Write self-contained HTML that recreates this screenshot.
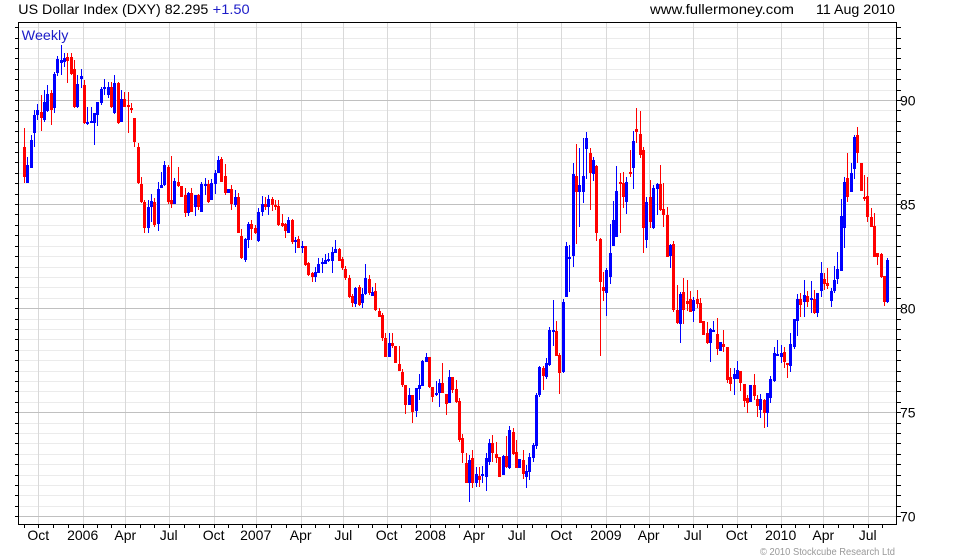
<!DOCTYPE html>
<html><head><meta charset="utf-8"><style>
html,body{margin:0;padding:0;background:#fff;}
svg{display:block;}
text{font-family:"Liberation Sans",Arial,sans-serif;}
</style></head><body>
<svg id="c" width="980" height="560" viewBox="0 0 980 560" xmlns="http://www.w3.org/2000/svg">
<rect x="0" y="0" width="980" height="560" fill="#fff"/>
<g id="grid" shape-rendering="crispEdges"></g>
<g id="candles" shape-rendering="crispEdges"></g>
<g id="axes" shape-rendering="crispEdges"></g>
<text x="18.3" y="14" font-size="14" fill="#000" textLength="190" lengthAdjust="spacingAndGlyphs">US Dollar Index (DXY) 82.295</text>
<text x="212.7" y="14" font-size="14" fill="#1c1cc8" textLength="37" lengthAdjust="spacingAndGlyphs">+1.50</text>
<text x="650" y="14" font-size="14" fill="#000" textLength="144" lengthAdjust="spacingAndGlyphs">www.fullermoney.com</text>
<text x="816" y="14" font-size="14" fill="#000" textLength="79" lengthAdjust="spacingAndGlyphs">11 Aug 2010</text>
<text x="21.7" y="40" font-size="14" fill="#1c1cc8" textLength="46.7" lengthAdjust="spacingAndGlyphs">Weekly</text>
<text x="760" y="555" font-size="10" fill="#999" textLength="135" lengthAdjust="spacingAndGlyphs">© 2010 Stockcube Research Ltd</text>
<g id="labels"></g>
</svg>
<script>
(function(){
var NS="http://www.w3.org/2000/svg";
function el(p,n,a,t){var e=document.createElementNS(NS,n);for(var k in a)e.setAttribute(k,a[k]);if(t!==undefined)e.textContent=t;p.appendChild(e);return e;}
var grid=document.getElementById('grid'),cg=document.getElementById('candles'),ax=document.getElementById('axes'),lb=document.getElementById('labels');
var L=18,R=897,T=22,B=525;
function Y(v){return 100+(90-v)*20.815;}
var Q=[38.3,82.7,125.3,168.7,213.7,255.7,300.7,343.3,386.7,430.3,474,516.7,561.3,606,648.7,692.7,736.7,780.7,823.3,867.7];
var QL=["Oct","2006","Apr","Jul","Oct","2007","Apr","Jul","Oct","2008","Apr","Jul","Oct","2009","Apr","Jul","Oct","2010","Apr","Jul"];
var v,y,i;
// minor horizontals
for(v=70;v<=93.5;v+=0.5){ if(v%5!==0){y=Math.round(Y(v))+0.5; el(grid,'line',{x1:L,x2:R,y1:y,y2:y,stroke:'#ebebeb','stroke-width':1});}}
// verticals
for(i=0;i<Q.length;i++){var x=Math.round(Q[i])+0.5; el(grid,'line',{x1:x,x2:x,y1:T,y2:B,stroke:'#d9d9d9','stroke-width':1});}
// major horizontals
for(v=70;v<=90;v+=5){y=Math.round(Y(v))+0.5; el(grid,'line',{x1:L,x2:R,y1:y,y2:y,stroke:'#c0c0c0','stroke-width':1});}
// candles [x, bodyTop, bodyBot, wickTop, wickBot, blue?]
var D=[
[24,146.7,177.3,127.7,182.7,0],[27,165,182.7,157,183,1],[31.3,140,167.7,135,168,1],[34.3,115,132.7,110,146.7,1],[37.3,110,115,104,120,1],[41.3,111.7,117.7,95,130.7,0],[44.3,101.7,120,90,121.7,1],[47.3,94,110.7,85,111.7,1],[51.3,92.7,110,90,125,0],[54.3,74,108.3,71.7,112.7,1],[57.3,59,72.7,56,76,1],[61.3,60,62.7,45,75,1],[64.3,58.3,61.7,52.7,67.3,1],[67.3,57.3,60.7,52.7,82.7,0],[71.3,57.3,74.3,53,75,0],[74.3,69.3,106.7,60,108.3,0],[77.3,84,106.7,75,108.3,1],[81.3,76,79,69.3,88.3,1],[84.3,85,123.3,80,124,0],[87.3,121.7,123.3,106.7,125,1],[91.3,121,123.3,106.7,123.3,1],[94.3,113.3,123.3,112.7,145,1],[97.3,101.7,115,101.7,126,1],[101.3,89,103.3,87.3,105,1],[104.3,87.3,89.3,79.3,95,1],[108.3,86.7,95,81.7,98.3,1],[111.3,86.7,106.7,81.7,108.3,0],[114.3,82.7,113.3,75,114,1],[118.3,82.7,123.3,81.7,124,0],[121.3,99,121.7,90,121.7,1],[124.3,99,106.7,91.7,106.7,0],[128.3,105,106.7,92.3,132.7,0],[131.3,107.7,109.3,102.7,113.3,0],[134.3,118.3,141.7,118.3,146.7,0],[138.3,147.3,182.7,143.3,184,0],[141.3,184,202.3,176.7,203.3,0],[144.3,202.3,227.7,200,232.7,0],[148.3,206.7,228.3,200,232.7,1],[151.3,201,207.3,194,221.7,1],[154.3,201.7,225,198.3,226.7,0],[158.3,189,224.3,181.7,230.7,1],[161.3,185,188.3,171.7,188.3,1],[164.3,165,185,161,185.7,1],[168.3,166.7,201.7,165,204,0],[171.3,200,204.3,156,208.3,0],[174.3,181,204.3,178.3,204.3,1],[178.3,182.3,186,166.7,186.7,0],[181.3,185.7,196.7,185.7,196.7,0],[185.3,195,213.3,188.3,216.7,0],[188.3,192.7,212.7,191.7,215.7,1],[191.3,193.3,211.7,188.3,211.7,0],[195.3,195,206.7,195,215.7,1],[198.3,195,206.7,194,210,0],[201.3,184,211.7,181.7,212.3,1],[205.3,184,185.7,178.3,195,1],[208.3,184.3,201.7,180,203.3,0],[211.3,183.3,200,179.3,200,1],[215.3,173.3,184,170,194,1],[218.3,160,173.3,156,173.3,1],[221.3,159,181.7,156.7,181.7,0],[225.3,176,193.3,164,195,0],[228.3,189,193.3,189,193.3,1],
[231.3,189,204,185,210,0],[235.3,197.3,205,190,206.7,1],[238.3,197.3,232.7,193.3,232.7,0],[241.3,236,258.3,229.3,259.3,0],[245.3,239.3,260,238.3,261.7,1],[248.3,224,240,221.7,247.7,1],[251.3,224,229.3,220,240,0],[255.3,228.3,232.7,225,234.3,0],[258.3,211.7,240.7,208.3,241.7,1],[262.3,204,211.7,196,216,1],[265.3,204,207.3,196.7,210,0],[268.3,199,206.7,195,215,1],[272.3,199,205,196.7,211,0],[275.3,205,207.3,200,210,0],[278.3,206,225,200,226,0],[282.3,223.3,226,214,227.3,0],[285.3,224,230.7,223.3,237.7,0],[288.3,220,232.7,217.3,233.3,1],[292.3,220,242.3,219.3,244,0],[295.3,240,241.7,236.7,252.7,1],[298.3,239.3,247.7,236,248.3,0],[302.3,246,247.7,241,253.3,1],[305.3,246,265,246,266,0],[308.3,263.3,275,261.7,276,0],[312.3,272.7,276.7,271.7,281.7,0],[315.3,271.7,277.3,266.7,281.7,1],[318.3,264,272.7,258.3,273.3,1],[322.3,261.7,264,258.3,273.3,1],[325.3,260,264,254.3,264,1],[328.3,259,260.7,253.3,261.7,1],[332.3,252.3,260.7,246.7,272.7,1],[335.3,249,253.3,240,253.3,1],[339.3,249.3,260.7,248.3,260.7,0],[342.3,259,268.3,256.7,270,0],[345.3,269.3,278.3,266,280,0],[349.3,278.3,296.7,275,298.3,0],[352.3,296,303.3,294,306.7,0],[355.3,288.3,304,286.7,307.3,1],[359.3,287.3,305,285,306,0],[362.3,294,303.3,288.3,308.3,1],[365.3,278.3,294,264,295,1],[369.3,279.3,292.7,275,295,0],[372.3,291.7,296,286.7,296,1],[375.3,291,310,283.3,310.7,0],[379.3,311,316.7,308.3,316.7,0],[382.3,315,338.3,312.7,340.7,0],[385.3,338.3,356.7,332.7,356.7,0],[389.3,342.7,356.7,332.7,356.7,1],[392.3,342.7,346,332.7,348.3,0],[395.3,346,362.7,346,362.7,0],[399.3,364,370.7,346,370.7,0],[402.3,371.7,385,369.3,386.7,0],[405.3,385,405,385,414,0],[409.3,395,405,388.3,405,1],[412.3,395,411.7,395,423.3,0],[416.3,388.3,410.7,388.3,416.7,1],[419.3,385,389.3,374,400,1],[422.3,360.7,386,360,386,1],[426.3,356.7,361.7,352.7,361.7,1],[429.3,356.7,387.3,356.7,388.3,0],[432.3,387.3,396.7,386.7,401.7,0],[436.3,392.7,395,380.7,396,1],[439.3,382.7,392.7,379.3,407.3,1],[442.3,382.7,392.7,362.7,393.3,0],[446.3,394,404,394,415,0],[449.3,377.3,403.3,370,403.3,1],[452.3,377.3,390,376.7,393.3,0],[456.3,389.3,401.7,380,402.7,0],[459.3,401,440,398.3,441.7,0],
[462.3,438.3,453.3,434,463.3,0],[466.3,463.3,482.7,453.3,482.7,0],[469.3,460,482.7,455,501.7,1],[472.3,458.3,482.7,450,488.3,0],[476.3,474,483.3,466.7,486.7,1],[479.3,476,480,466.7,486.7,0],[482.3,474,476,466,483.3,1],[486.3,458.3,476.7,452.7,490.7,1],[489.3,443.3,461.7,439.3,465,1],[492.3,443.3,453.3,435,461.7,0],[496.3,454.3,458.3,441.7,463.3,0],[499.3,457.3,477.3,457.3,477.3,0],[503.3,456,475,455,475,1],[506.3,456,467.3,436,468.3,0],[509.3,430,468.3,426,469.3,1],[513.3,431.7,454,428.3,455,0],[516.3,451.7,468.3,440,468.3,0],[519.3,459.3,468.3,459.3,468.3,1],[523.3,460,474,450,479.3,0],[526.3,470.7,477.3,465,488.3,1],[529.3,456.7,471.7,452.7,480,1],[533.3,445,458.3,442.7,461.7,1],[536.3,395,446,392.7,449.3,1],[539.3,367.3,395,366,396.7,1],[543.3,368.3,376,366,390,0],[546.3,363.3,376.7,358.3,379.3,1],[549.3,330,365,326.7,366,1],[553.3,330,331.7,300,346,1],[556.3,330.7,356,321,356,0],[559.3,355,372.7,353.3,394,0],[563.3,301.7,371.7,299.3,372.7,1],[566.3,246,296.7,241.7,297.3,1],[569.3,256.7,258.3,245,291.7,1],[573.3,174,256,162.7,266.7,1],[576.3,176,191.7,144,244,0],[579.3,185,191.7,148.3,226.7,1],[583.3,176,191.7,138.3,202.7,1],[586.3,138.3,149.3,131.7,179.3,1],[590.3,152.7,173.3,148.3,210,0],[593.3,160,174,156.7,180.7,1],[596.3,166,232.7,165,240.7,0],[600.3,239.3,281.7,238.3,356,0],[603.3,286.7,290.7,271.7,300.7,0],[606.3,270,292.7,268.3,316,1],[610.3,252.7,277.3,224,284,1],[613.3,220,246,200.7,246,1],[616.3,190.7,236.7,166,236.7,1],
[620.3,181.7,183.3,172.7,232.7,0],[623.3,182.7,197.3,171.7,208.3,0],[626.3,181.7,201.7,177.3,214,1],[630.3,171.7,173.3,150,177.3,0],[633.3,140.7,168.3,130.7,189.3,1],[636.3,129.3,131.7,108.3,143.3,0],[640.3,134,155,111,158.3,0],[643.3,150,228.3,146.7,252.7,0],[646.3,201.7,240,196.7,247.7,1],[650.3,196.7,221.7,180,228.3,0],[653.3,188.3,228.3,185,229.3,1],[657.3,184,189.3,182.7,215,1],[660.3,184,210,165,210.7,0],[663.3,209.3,215,183.3,226.7,0],[667.3,215,256.7,207.3,257.3,0],[670.3,245,256,244,268.3,1],[673.3,244,310,240.7,311.7,0],[677.3,310,322.7,285,324,0],[680.3,294,324,291.7,342.7,1],[683.3,291.7,310,278.3,324,0],[687.3,300.7,304,280,310.7,0],[690.3,299.3,311.7,290.7,311.7,0],[693.3,300,310.7,296.7,321.7,1],[697.3,299.3,304,290,308.3,0],[700.3,302.7,322.7,298.3,322.7,0],[703.3,320.7,335,320.7,335,0],[707.3,333.3,343.3,321.7,344,0],[710.3,329.3,343.3,328.3,361.7,1],[713.3,330,331.7,320.7,331.7,1],[717.3,334,349.3,318.3,355,0],[720.3,341.7,350.7,341.7,350.7,1],[723.3,344,347.3,330,351.7,0],[727.3,347.3,380,347.3,382.7,0],[730.3,377.3,384,368.3,390.7,0],[734.3,374,379.3,368.3,395,1],[737.3,370,379.3,360.7,379.3,1],[740.3,370.7,382.7,370.7,390.7,0],[744.3,384,400.7,384,406.7,0],[747.3,398.3,402.7,395,412.7,0],[750.3,385,401.7,385,401.7,1],[754.3,385,396,374,400,0],[757.3,399.3,406,395,416.7,0],[760.3,399.3,410,394,418.3,1],[764.3,400,413.3,399.3,428.3,0],[767.3,393.3,413.3,393.3,426.7,1],[770.3,379.3,398.3,376,402.7,1],[774.3,353.3,380.7,346.7,381.7,1],[777.3,354,356,340,356,1],
[781,353.3,356.7,345,363.3,1],[784,351.7,361.7,346.7,368.3,0],[787.3,362.7,365,362.7,378.3,0],[790.3,344,366,332.7,371.7,1],[794.3,319.3,347.3,319.3,349.3,1],[797.3,299.3,320.7,294,336,1],[800.3,299.3,305,293.3,316.7,0],[804.3,295,301.7,280,316.7,1],[807.3,296,301.7,290.7,306.7,0],[811.3,298.3,300,280.7,312.7,1],[814.3,299.3,312.7,290,314,0],[817.3,293.3,312.7,292.7,317.3,1],[821.3,273.3,290.7,261.7,296.7,1],[824.3,279.3,284,273.3,290,0],[827.3,283.3,285.7,268.3,289.3,0],[831.3,290.7,300.7,288.3,306.7,1],[834.3,280,290.7,265.7,292.7,1],[837.3,269.3,279.3,251.7,284,1],[841.3,216,270.7,199,270.7,1],[844.3,181.7,228.3,177.3,248.3,1],[847.3,178.3,196.7,152.7,201.7,0],[851.3,172.7,191.7,163.3,191.7,1],[854.3,136.7,169,135,179.3,1],[857.3,135,152.7,126.7,163.3,0],[861.3,162.7,190.7,162.7,190.7,0],[864.3,196.7,199,175,200.7,0],[867.3,196,216.7,176.7,221.7,0],[871.3,216.7,226.7,208.3,227.3,0],[874.3,226,256.7,212.7,256.7,0],[877.3,253.3,257.3,252.7,265,0],[881.3,254,276.7,253.3,278.3,0],[884.3,276,301.7,276,306,0],[887.3,260,301.7,258.3,302.7,1]
];
for(i=0;i<D.length;i++){
  var d=D[i],cx=Math.round(d[0]),col=d[5]?'#0000ff':'#ff0000';
  var wt=Math.round(d[3]),wb=Math.round(d[4]),bt=Math.round(d[1]),bb=Math.round(d[2]);
  if(wb-wt<1)wb=wt+1;
  el(cg,'rect',{x:cx,y:wt,width:1,height:wb-wt,fill:col});
  var bh=bb-bt; if(bh<2)bh=2;
  el(cg,'rect',{x:cx-1,y:bt,width:3,height:bh,fill:col});
}
// box
el(ax,'rect',{x:L+0.5,y:T+0.5,width:R-L-1,height:B-T-1,fill:'none',stroke:'#000','stroke-width':1});
// y ticks
for(v=70;v<=93.5;v+=0.5){y=Math.round(Y(v))+0.5;
  el(ax,'line',{x1:R,x2:R+4,y1:y,y2:y,stroke:'#000','stroke-width':1});
  el(ax,'line',{x1:L-3,x2:L,y1:y,y2:y,stroke:'#000','stroke-width':1});
}
for(v=70;v<=90;v+=5){el(lb,'text',{x:900,y:(Y(v)+5.3).toFixed(1),'font-size':14,fill:'#000'},String(v));}
// x ticks monthly
var ticks=[Q[0]-29,Q[0]-14.5];
for(i=0;i<Q.length;i++){ticks.push(Q[i]); if(i<Q.length-1){var dq=(Q[i+1]-Q[i])/3;ticks.push(Q[i]+dq,Q[i]+2*dq);} }
ticks.push(Q[Q.length-1]+14.5);
for(i=0;i<ticks.length;i++){var tx=Math.round(ticks[i])+0.5; if(tx>L&&tx<R) el(ax,'line',{x1:tx,x2:tx,y1:B,y2:B+3,stroke:'#000','stroke-width':1});}
for(i=0;i<Q.length;i++){el(lb,'text',{x:Q[i],y:540,'font-size':14,fill:'#000','text-anchor':'middle'},QL[i]);}
})();
</script>
</body></html>
